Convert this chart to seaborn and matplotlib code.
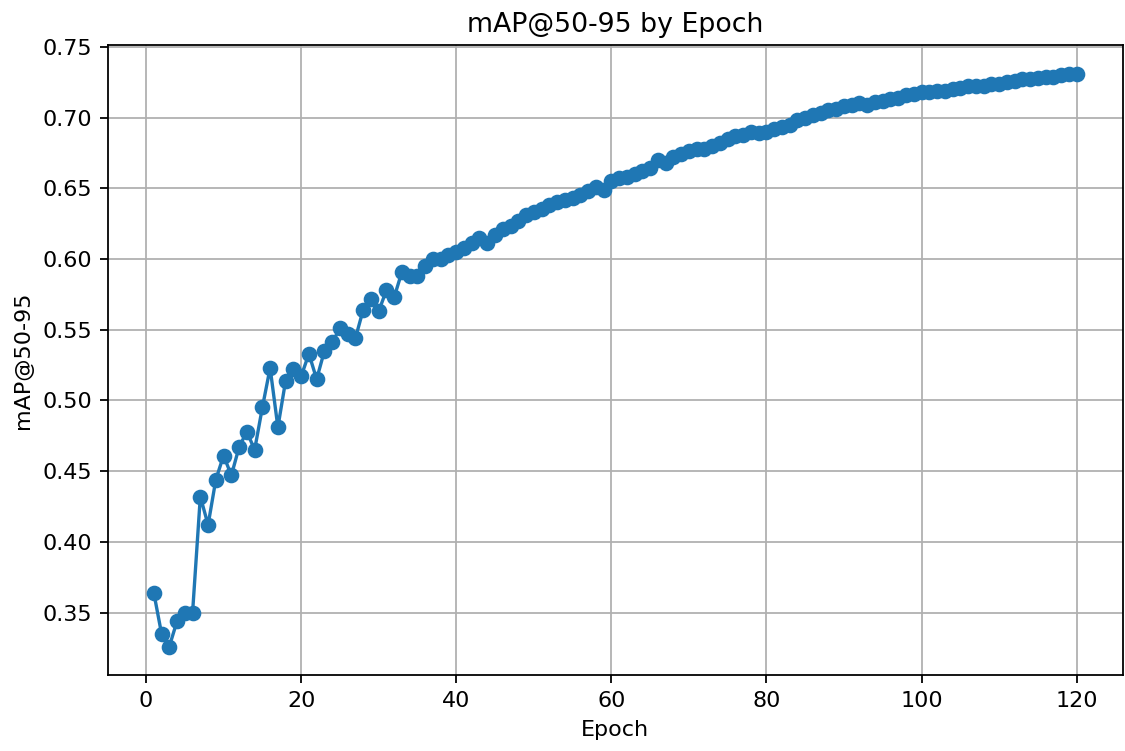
import matplotlib
matplotlib.use("Agg")
import matplotlib.pyplot as plt
import seaborn as sns
import pandas as pd

epochs = list(range(1, 121))
map50_95 = [
    0.364, 0.335, 0.326, 0.344, 0.350, 0.350, 0.432, 0.412, 0.444, 0.461,
    0.447, 0.467, 0.478, 0.465, 0.495, 0.523, 0.481, 0.514, 0.522, 0.517,
    0.533, 0.515, 0.535, 0.541, 0.551, 0.547, 0.544, 0.564, 0.572, 0.563,
    0.578, 0.573, 0.591, 0.588, 0.588, 0.595, 0.600, 0.600, 0.603, 0.605,
    0.608, 0.611, 0.615, 0.611, 0.617, 0.621, 0.623, 0.627, 0.631, 0.633,
    0.635, 0.638, 0.640, 0.642, 0.643, 0.645, 0.648, 0.651, 0.649, 0.655,
    0.657, 0.658, 0.660, 0.662, 0.664, 0.670, 0.668, 0.672, 0.674, 0.676,
    0.678, 0.678, 0.680, 0.682, 0.685, 0.687, 0.688, 0.690, 0.689, 0.690,
    0.692, 0.693, 0.695, 0.698, 0.700, 0.702, 0.703, 0.705, 0.706, 0.708,
    0.709, 0.710, 0.709, 0.711, 0.712, 0.713, 0.714, 0.716, 0.717, 0.718,
    0.718, 0.719, 0.719, 0.720, 0.721, 0.722, 0.722, 0.722, 0.724, 0.724,
    0.725, 0.726, 0.727, 0.727, 0.728, 0.729, 0.729, 0.730, 0.731, 0.731,
]

df = pd.DataFrame({"Epoch": epochs, "mAP@50-95": map50_95})

DPI = 160.7
fig = plt.figure(figsize=(1125 / DPI, 751 / DPI), dpi=DPI)
ax = fig.add_axes([0.0957, 0.101, 0.998 - 0.0957, 0.940 - 0.101])

sns.lineplot(data=df, x="Epoch", y="mAP@50-95", marker="o", markersize=6,
             markeredgewidth=1.0, markeredgecolor="#1f77b4",
             color="#1f77b4", linewidth=1.5, ax=ax)

ax.set_title("mAP@50-95 by Epoch")
ax.set_xlabel("Epoch")
ax.set_ylabel("mAP@50-95")
ax.grid(True)

fig.savefig("out.png", dpi=DPI)
